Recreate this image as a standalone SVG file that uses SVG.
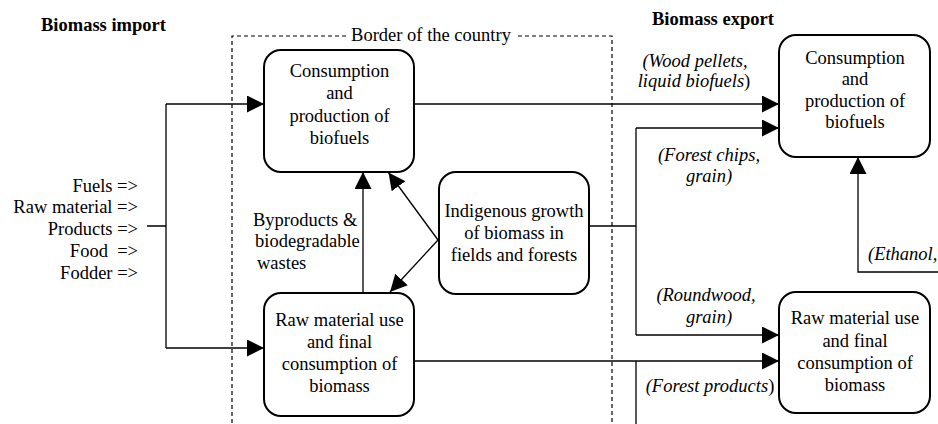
<svg xmlns="http://www.w3.org/2000/svg" width="938" height="424" viewBox="0 0 938 424">
<style>
text{font-family:"Liberation Serif","Times New Roman",serif;font-size:18.5px;fill:#000}
.c{text-anchor:middle}
.r{text-anchor:end}
.i{font-style:italic}
.n{font-style:normal}
.b{font-weight:bold}
.box{fill:#fff;stroke:#000;stroke-width:2}
.ln{fill:none;stroke:#000;stroke-width:1.3}
.ar{marker-end:url(#ah)}
.dash{fill:none;stroke:#000;stroke-width:1.2;stroke-dasharray:4 3}
</style>
<defs>
<marker id="ah" markerUnits="userSpaceOnUse" markerWidth="18" markerHeight="18" refX="17" refY="8.5" orient="auto">
<path d="M0,0 L17,8.5 L0,17 z" fill="#000"/>
</marker>
</defs>
<rect width="938" height="424" fill="#fff"/>
<g id="border">
<path class="dash" d="M346,36 H232 V424 M518,36 H612 V424"/>
<text x="431" y="41" class="c">Border of the country</text>
</g>
<g id="headings">
<text x="41" y="31" class="b">Biomass import</text>
<text x="652" y="25" class="b">Biomass export</text>
</g>
<g id="import-labels">
<text x="138" y="192" class="r">Fuels =&gt;</text>
<text x="138" y="213" class="r">Raw material =&gt;</text>
<text x="138" y="235" class="r">Products =&gt;</text>
<text x="138" y="257" class="r" xml:space="preserve">Food  =&gt;</text>
<text x="138" y="279" class="r">Fodder =&gt;</text>
</g>
<g id="connectors">
<path class="ln" d="M147,226 H166 M166,104 V348"/>
<path class="ln ar" d="M166,104 H264"/>
<path class="ln ar" d="M166,348 H264"/>
<path class="ln ar" d="M413,104 H779"/>
<path class="ln" d="M589,226 H636 M636,128 V335"/>
<path class="ln ar" d="M636,128 H779"/>
<path class="ln ar" d="M636,335 H779"/>
<path class="ln ar" d="M413,361 H779"/>
<path class="ln" d="M636,361 V424"/>
<path class="ln ar" d="M938,272 H858 V157"/>
<path class="ln ar" d="M363,293 V172"/>
<path class="ln ar" d="M438,240 L388.5,172.5"/>
<path class="ln ar" d="M438,240 L390,292"/>
</g>
<g id="edge-labels">
<text x="253" y="226">Byproducts &amp;</text>
<text x="255" y="247">biodegradable</text>
<text x="257" y="269">wastes</text>
<text x="695" y="67" class="c i">(Wood pellets,</text>
<text x="694" y="87" class="c i">liquid biofuels<tspan class="n">)</tspan></text>
<text x="709" y="161" class="c i">(Forest chips,</text>
<text x="709" y="182" class="c i">grain)</text>
<text x="706" y="301" class="c i">(Roundwood,</text>
<text x="709" y="323" class="c i">grain)</text>
<text x="710" y="392" class="c i">(Forest products<tspan class="n">)</tspan></text>
<text x="868" y="260" class="i">(Ethanol,</text>
</g>
<g id="node-cons-dom">
<rect class="box" x="264" y="50" width="150" height="122" rx="17"/>
<text x="339.5" y="77" class="c">Consumption</text>
<text x="339.5" y="99" class="c">and</text>
<text x="339.5" y="121.5" class="c">production of</text>
<text x="339.5" y="143.5" class="c">biofuels</text>
</g>
<g id="node-raw-dom">
<rect class="box" x="264" y="293" width="150" height="123" rx="17"/>
<text x="339.5" y="326" class="c">Raw material use</text>
<text x="339.5" y="348" class="c">and final</text>
<text x="339.5" y="370" class="c">consumption of</text>
<text x="339.5" y="392" class="c">biomass</text>
</g>
<g id="node-indigenous">
<rect class="box" x="439" y="172" width="150" height="122" rx="17"/>
<text x="514" y="217" class="c">Indigenous growth</text>
<text x="514" y="239" class="c">of biomass in</text>
<text x="514" y="261" class="c">fields and forests</text>
</g>
<g id="node-cons-exp">
<rect class="box" x="779" y="35" width="151" height="122" rx="17"/>
<text x="855" y="64" class="c">Consumption</text>
<text x="855" y="85" class="c">and</text>
<text x="855" y="107" class="c">production of</text>
<text x="855" y="128" class="c">biofuels</text>
</g>
<g id="node-raw-exp">
<rect class="box" x="779" y="292" width="151" height="121" rx="17"/>
<text x="855" y="324" class="c">Raw material use</text>
<text x="855" y="347" class="c">and final</text>
<text x="855" y="369" class="c">consumption of</text>
<text x="855" y="391" class="c">biomass</text>
</g>
</svg>
